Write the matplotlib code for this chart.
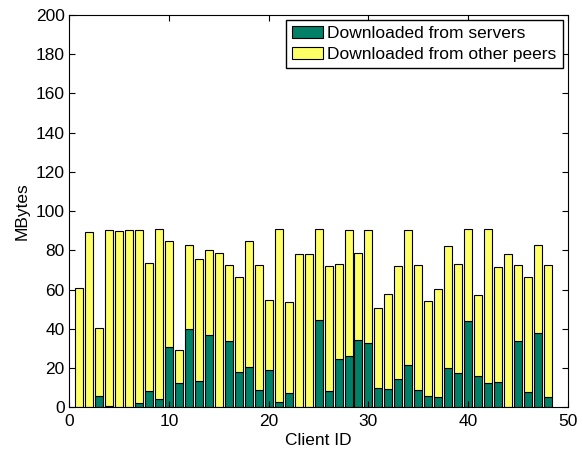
import matplotlib
matplotlib.use("Agg")
import matplotlib.pyplot as plt

plt.rcParams['font.family'] = ['Liberation Sans', 'DejaVu Sans']

# MB downloaded per client
client_ids = list(range(1, 49))
total_mb = [60.8, 89.3, 40.3, 90.3, 89.7, 90.2, 90.2, 73.4, 90.7, 84.7,
            29.0, 82.5, 75.4, 80.2, 78.6, 72.7, 66.6, 84.7, 72.5, 54.7,
            90.7, 53.9, 78.1, 78.1, 91.0, 72.2, 73.1, 90.5, 78.5, 90.3,
            50.8, 57.6, 72.0, 90.2, 72.5, 54.1, 60.5, 82.4, 73.1, 91.0,
            57.1, 90.7, 71.7, 78.3, 72.4, 66.6, 82.7, 72.4]
server_mb = [0.0, 0.0, 5.6, 0.5, 0.0, 0.0, 2.0, 8.1, 4.4, 30.7,
             12.2, 40.0, 13.2, 36.6, 0.0, 33.7, 18.0, 20.5, 8.6, 18.8,
             2.5, 7.3, 0.0, 0.0, 44.4, 8.1, 24.4, 26.1, 34.1, 32.7,
             9.8, 9.3, 14.4, 21.4, 8.6, 5.6, 5.1, 19.8, 17.6, 44.1,
             15.9, 12.4, 12.7, 0.0, 33.9, 7.8, 38.1, 5.4]
peer_mb = [t - s for t, s in zip(total_mb, server_mb)]

fs = 12.5

fig = plt.figure(figsize=(5.83, 4.54), dpi=100)
ax = fig.add_axes([0.119, 0.103, 0.855, 0.864])

ax.bar(client_ids, server_mb, width=0.8, color='#008066', edgecolor='black',
       linewidth=0.8, label='Downloaded from servers')
ax.bar(client_ids, peer_mb, width=0.8, bottom=server_mb, color='#ffff66',
       edgecolor='black', linewidth=0.8, label='Downloaded from other peers')

ax.set_xlim(0, 50)
ax.set_ylim(0, 200)
ax.set_xticks(range(0, 51, 10))
ax.set_yticks(range(0, 201, 20))
ax.tick_params(direction='in', top=True, right=True, labelsize=fs, length=4)
ax.tick_params(axis='x', pad=5)
ax.set_xlabel('Client ID', fontsize=fs, labelpad=3)
ax.set_ylabel('MBytes', fontsize=fs, labelpad=4)

ax.legend(loc='upper right', fontsize=fs, fancybox=False, edgecolor='black',
          framealpha=1, borderaxespad=0.3, handlelength=1.8, handletextpad=0.25,
          borderpad=0.35, labelspacing=0.3)

fig.savefig('out.png', dpi=100)
